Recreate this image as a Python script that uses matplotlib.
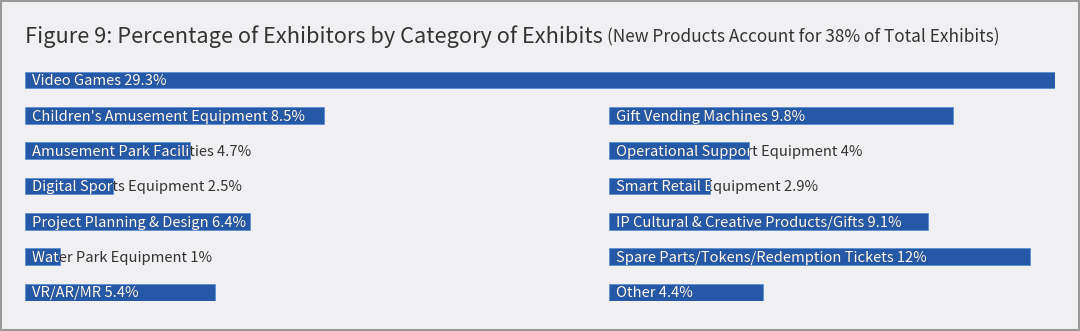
import matplotlib
matplotlib.use("Agg")
import matplotlib.pyplot as plt
from matplotlib.patches import Rectangle
from matplotlib.transforms import TransformedBbox

plt.rcParams['font.family'] = ['Noto Sans CJK SC', 'DejaVu Sans']

# left column (rows 0..6)
left_names = ["Video Games", "Children's Amusement Equipment", "Amusement Park Facilities",
              "Digital Sports Equipment", "Project Planning & Design", "Water Park Equipment",
              "VR/AR/MR"]
left_vals = [29.3, 8.5, 4.7, 2.5, 6.4, 1, 5.4]
left_rows = [0, 1, 2, 3, 4, 5, 6]

# right column (rows 1..6)
right_names = ["Gift Vending Machines", "Operational Support Equipment", "Smart Retail Equipment",
               "IP Cultural & Creative Products/Gifts", "Spare Parts/Tokens/Redemption Tickets",
               "Other"]
right_vals = [9.8, 4, 2.9, 9.1, 12, 4.4]
right_rows = [1, 2, 3, 4, 5, 6]

title = "Figure 9: Percentage of Exhibitors by Category of Exhibits"
subtitle = "(New Products Account for 38% of Total Exhibits)"

bar_color = "#2558a7"
bg = "#f0f0f2"
W, H = 1080, 331
right_offset = 16.6   # start of right column, in % units

fig = plt.figure(figsize=(W / 100, H / 100), dpi=100, facecolor=bg)
ax = fig.add_axes([25 / W, 1 - 300.5 / H, 1030 / W, 229 / H])
ax.set_xlim(0, 29.3)
ax.set_ylim(6.24, -0.24)
ax.axis("off")

def draw_col(names, vals, rows, offset):
    bars = ax.barh(rows, vals, left=offset, height=0.48, color=bar_color,
                   edgecolor="#5b8fd0", linewidth=0.6)
    for rect, n, v, r in zip(bars, names, vals, rows):
        lab = f"{n} {v:g}%"
        ax.text(offset + 0.2, r + 0.04, lab, color="#333333", fontsize=10.6,
                fontweight="medium", va="center", ha="left", clip_on=False)
        t = ax.text(offset + 0.2, r + 0.04, lab, color="white", fontsize=10.6,
                    fontweight="medium", va="center", ha="left", clip_on=True)
        # white part only where the text lies over the bar
        t.set_clip_path(None)
        t.set_clip_box(TransformedBbox(rect.get_bbox(), ax.transData))

draw_col(left_names, left_vals, left_rows, 0)
draw_col(right_names, right_vals, right_rows, right_offset)

fig.text(25 / W, 1 - 36.5 / H, title, fontsize=15.7, fontweight="medium", color="#333333",
         va="center", ha="left")
fig.text(607 / W, 1 - 37.5 / H, subtitle, fontsize=12.4, fontweight="medium", color="#333333",
         va="center", ha="left")

# frame around the picture
fig.patches.append(Rectangle((0.0008, 0.002), 0.9984, 0.995, transform=fig.transFigure,
                             fill=False, edgecolor="#9a9a9a", linewidth=1.5))

fig.savefig("out.png", dpi=100, facecolor=bg)
